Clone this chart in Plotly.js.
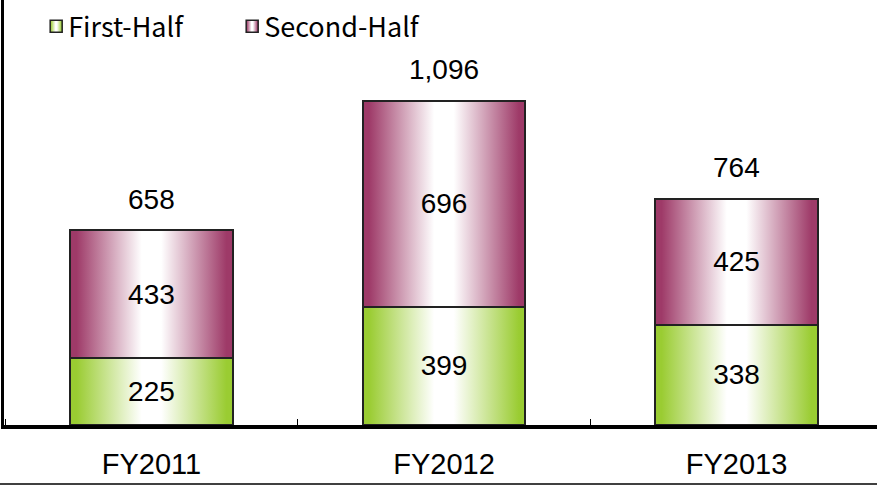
<!DOCTYPE html>
<html>
<head>
<meta charset="utf-8">
<script src="https://cdn.plot.ly/plotly-3.0.1.min.js"></script>
<style>html,body{margin:0;padding:0;background:#fff;}#chart{width:877px;height:486px;}</style>
</head>
<body>
<div id="chart"></div>
<script>
const categories = ["FY2011", "FY2012", "FY2013"];
const firstHalf = [225, 399, 338];
const secondHalf = [433, 696, 425];
const totals = [658, 1096, 764];
const seriesNames = ["First-Half", "Second-Half"];

const fontMain = "'Liberation Sans', Arial, sans-serif";

const traces = [
  {
    type: "bar", name: seriesNames[0], x: categories, y: firstHalf,
    text: firstHalf.map(String), textposition: "inside", insidetextanchor: "middle",
    textangle: 0, constraintext: "none",
    textfont: {family: fontMain, size: 28, color: "#000"},
    marker: {color: "rgb(154,204,50)", line: {color: "#222", width: 2}},
    width: 0.557, hoverinfo: "none"
  },
  {
    type: "bar", name: seriesNames[1], x: categories, y: secondHalf,
    text: secondHalf.map(String), textposition: "inside", insidetextanchor: "middle",
    textangle: 0, constraintext: "none",
    textfont: {family: fontMain, size: 28, color: "#000"},
    marker: {color: "rgb(158,58,104)", line: {color: "#222", width: 2}},
    width: 0.557, hoverinfo: "none"
  }
];

const annotations = categories.map((c, i) => ({
  x: c, y: totals[i], xref: "x", yref: "y",
  text: totals[i].toLocaleString("en-US"),
  showarrow: false, yanchor: "middle", yshift: 31,
  font: {family: fontMain, size: 28, color: "#000"}
}));

const layout = {
  width: 877, height: 486,
  margin: {l: 4, r: 0, t: 0, b: 61},
  paper_bgcolor: "#fff", plot_bgcolor: "#fff",
  barmode: "stack",
  showlegend: true,
  legend: {
    orientation: "h", x: 0.0277, y: 0.995, xanchor: "left", yanchor: "top",
    font: {family: "'Noto Sans CJK JP', 'Liberation Sans', sans-serif", size: 27, color: "#000"},
    bgcolor: "rgba(0,0,0,0)", traceorder: "normal", itemwidth: 30,
    entrywidth: 151, entrywidthmode: "pixels"
  },
  xaxis: {
    type: "category", range: [-0.504, 2.48],
    showline: true, linecolor: "#000", linewidth: 4,
    ticks: "inside", tickson: "boundaries", ticklen: 6, tickcolor: "#000", tickwidth: 1,
    tickfont: {family: fontMain, size: 29, color: "#000"},
    ticklabelstandoff: 10,
    showgrid: false, zeroline: false, fixedrange: true
  },
  yaxis: {
    range: [0, 1435], showline: true, linecolor: "#000", linewidth: 3,
    showticklabels: false, ticks: "", showgrid: false, zeroline: false, fixedrange: true
  },
  annotations: annotations,
  shapes: [{
    type: "line", xref: "paper", yref: "paper",
    x0: -0.01, x1: 1, y0: (425 - 484) / 425, y1: (425 - 484) / 425,
    line: {color: "#000", width: 1.5}
  }]
};

function addGradients(gd) {
  const svg = gd.querySelector("svg.main-svg");
  if (!svg) return;
  let defs = svg.querySelector("defs");
  if (!defs) { defs = document.createElementNS("http://www.w3.org/2000/svg", "defs"); svg.insertBefore(defs, svg.firstChild); }
  const mk = (id, c) => {
    if (svg.querySelector("#" + id)) return;
    const g = document.createElementNS("http://www.w3.org/2000/svg", "linearGradient");
    g.setAttribute("id", id);
    g.setAttribute("x1", "0"); g.setAttribute("y1", "0"); g.setAttribute("x2", "1"); g.setAttribute("y2", "0");
    const stops = [[0, c], [0.04, c], [0.44, "#ffffff"], [0.56, "#ffffff"], [0.96, c], [1, c]];
    stops.forEach(([o, col]) => {
      const s = document.createElementNS("http://www.w3.org/2000/svg", "stop");
      s.setAttribute("offset", o); s.setAttribute("stop-color", col);
      g.appendChild(s);
    });
    defs.appendChild(g);
  };
  mk("gradGreen", "rgb(154,204,50)");
  mk("gradPurple", "rgb(158,58,104)");
  const ids = ["gradGreen", "gradPurple"];
  gd.querySelectorAll(".barlayer .trace.bars").forEach((t, i) => {
    t.querySelectorAll(".point path").forEach(p => { p.style.fill = "url(#" + ids[i] + ")"; p.style.fillOpacity = 1; });
  });
  gd.querySelectorAll(".legend .traces").forEach((t, i) => {
    const lp = t.querySelector(".legendpoints");
    if (lp && !lp.dataset.shifted) { lp.setAttribute("transform", "translate(8,0)"); lp.dataset.shifted = "1"; }
    t.querySelectorAll(".legendpoints path").forEach(p => { p.style.fill = "url(#" + ids[i] + ")"; p.style.stroke = "#222"; p.style.strokeWidth = "1.5px"; });
  });
}

const gd = document.getElementById("chart");
Plotly.newPlot(gd, traces, layout, {displayModeBar: false, staticPlot: true}).then(() => {
  addGradients(gd);
  gd.on("plotly_afterplot", () => addGradients(gd));
});
</script>
</body>
</html>
